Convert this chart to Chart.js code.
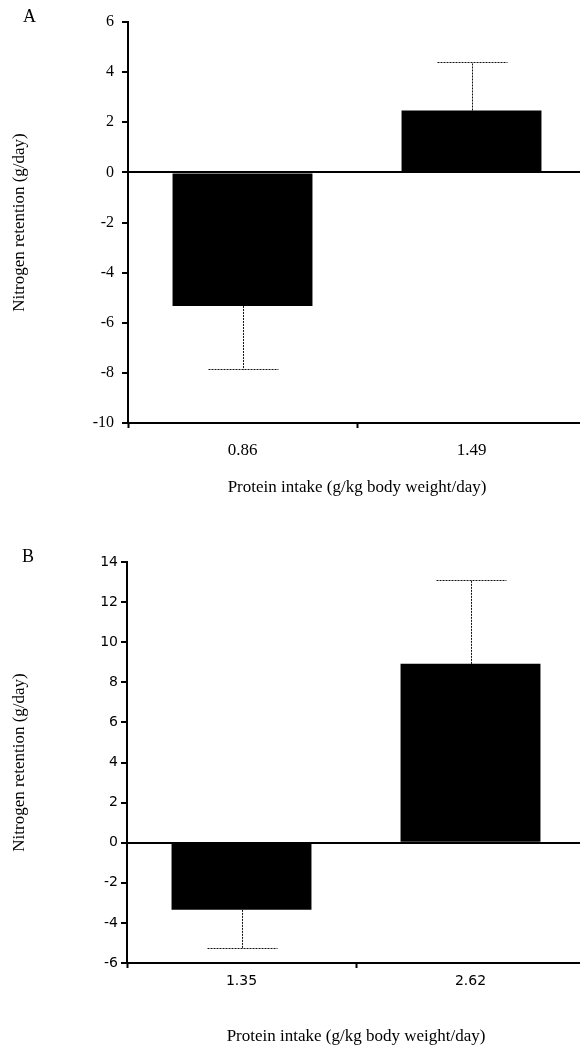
<!DOCTYPE html>
<html>
<head>
<meta charset="utf-8">
<script src="https://cdn.jsdelivr.net/npm/chart.js@4.4.0/dist/chart.umd.min.js"></script>
<style>
    html, body { margin: 0; padding: 0; background: #fff; width: 580px; height: 1049px; overflow: hidden; }
    #wrap { position: relative; width: 580px; height: 1049px; overflow: hidden; }
    canvas { position: absolute; left: 0; }
    #chartA { top: 0; }
    #chartB { top: 530px; }
    .panel { position: absolute; font-family: 'Liberation Serif', serif; font-size: 18px; line-height: 18px; color: #000; }
</style>
</head>
<body>
<div id="wrap">
    <canvas id="chartA" width="600" height="498"></canvas>
    <canvas id="chartB" width="600" height="517"></canvas>
    <div class="panel" style="left:23px; top:7px;">A</div>
    <div class="panel" style="left:22px; top:547px;">B</div>
</div>
<script>
// --- datos ---
const categoriesA = ['0.86', '1.49'];
const valuesA = [-5.33, 2.47];
const errorsA = [2.52, 1.94];
const yTicksA = [-10, 6, 2];   // min, max, paso

const categoriesB = ['1.35', '2.62'];
const valuesB = [-3.35, 8.92];
const errorsB = [1.89, 4.18];
const yTicksB = [-6, 14, 2];

const xTitle = 'Protein intake (g/kg body weight/day)';
const yTitle = 'Nitrogen retention (g/day)';

// --- barras de error punteadas (solo hacia fuera del cero) ---
const errorBarPlugin = {
    id: 'errorBars',
    afterDatasetsDraw(chart, args, opts) {
        const ctx = chart.ctx;
        const meta = chart.getDatasetMeta(0);
        const yScale = chart.scales.y;
        const values = chart.data.datasets[0].data;
        ctx.save();
        ctx.strokeStyle = '#111';
        ctx.lineWidth = 1;
        ctx.setLineDash([2, 1]);
        meta.data.forEach(function(bar, i) {
            const v = values[i];
            const end = v >= 0 ? v + opts.errors[i] : v - opts.errors[i];
            const yEnd = Math.round(yScale.getPixelForValue(end)) + 0.5;
            const half = bar.width / 4;
            const x = Math.round(bar.x) + 0.5;
            ctx.beginPath();
            ctx.moveTo(x, bar.y);
            ctx.lineTo(x, yEnd);
            ctx.moveTo(x - half, yEnd);
            ctx.lineTo(x + half, yEnd);
            ctx.stroke();
        });
        ctx.restore();
    }
};

function zeroLine(c) {
    return c.tick.value === 0 ? '#000' : 'rgba(0,0,0,0)';
}

// --- Panel A ---
new Chart(document.getElementById('chartA'), {
    type: 'bar',
    data: {
        labels: categoriesA,
        datasets: [{
            data: valuesA,
            backgroundColor: '#000',
            borderWidth: 0,
            barPercentage: 0.611,
            categoryPercentage: 1
        }]
    },
    plugins: [errorBarPlugin],
    options: {
        responsive: false,
        animation: false,
        layout: { padding: { top: 22, right: 14, left: 0, bottom: 0 } },
        plugins: {
            legend: { display: false },
            tooltip: { enabled: false },
            errorBars: { errors: errorsA }
        },
        scales: {
            x: {
                afterFit: function(s) { s.height = 75; },
                border: { color: '#000', width: 2 },
                grid: { color: 'rgba(0,0,0,0)', tickColor: '#000', tickLength: 5, tickWidth: 2, offset: true },
                ticks: { color: '#000', padding: 12, font: { family: 'Liberation Serif', size: 17 } },
                title: { display: true, text: xTitle, color: '#000', padding: { top: 0, bottom: 0 },
                         font: { family: 'Liberation Serif', size: 17 } }
            },
            y: {
                min: yTicksA[0],
                max: yTicksA[1],
                afterFit: function(s) { s.width = 128; },
                border: { color: '#000', width: 2 },
                grid: { color: zeroLine, lineWidth: 2, tickColor: '#000', tickLength: 6, tickWidth: 2 },
                ticks: { stepSize: yTicksA[2], color: '#000', padding: 8, font: { family: 'Liberation Serif', size: 16 } },
                title: { display: true, text: yTitle, color: '#000', padding: { top: 9, bottom: 0 },
                         font: { family: 'Liberation Serif', size: 17 } }
            }
        }
    }
});

// --- Panel B ---
new Chart(document.getElementById('chartB'), {
    type: 'bar',
    data: {
        labels: categoriesB,
        datasets: [{
            data: valuesB,
            backgroundColor: '#000',
            borderWidth: 0,
            barPercentage: 0.611,
            categoryPercentage: 1
        }]
    },
    plugins: [errorBarPlugin],
    options: {
        responsive: false,
        animation: false,
        layout: { padding: { top: 32, right: 15, left: 0, bottom: 0 } },
        plugins: {
            legend: { display: false },
            tooltip: { enabled: false },
            errorBars: { errors: errorsB }
        },
        scales: {
            x: {
                afterFit: function(s) { s.height = 84; },
                border: { color: '#000', width: 2 },
                grid: { color: 'rgba(0,0,0,0)', tickColor: '#000', tickLength: 5, tickWidth: 2, offset: true },
                ticks: { color: '#000', padding: 5, font: { family: 'DejaVu Sans', size: 14 } },
                title: { display: true, text: xTitle, color: '#000', padding: { top: 0, bottom: 0 },
                         font: { family: 'Liberation Serif', size: 17 } }
            },
            y: {
                min: yTicksB[0],
                max: yTicksB[1],
                afterFit: function(s) { s.width = 127; },
                border: { color: '#000', width: 2 },
                grid: { color: zeroLine, lineWidth: 2, tickColor: '#000', tickLength: 6, tickWidth: 2 },
                ticks: { stepSize: yTicksB[2], color: '#000', padding: 3, font: { family: 'DejaVu Sans', size: 14 } },
                title: { display: true, text: yTitle, color: '#000', padding: { top: 9, bottom: 0 },
                         font: { family: 'Liberation Serif', size: 17 } }
            }
        }
    }
});
</script>
</body>
</html>
